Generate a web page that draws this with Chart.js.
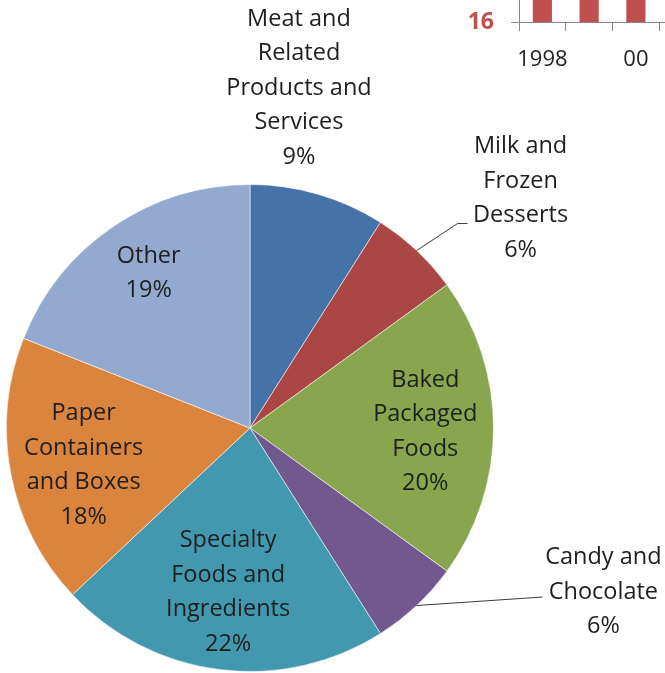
<!DOCTYPE html>
<html>
<head>
<meta charset="utf-8">
<title>Food processing segments</title>
<script src="https://cdn.jsdelivr.net/npm/chart.js"></script>
<style>
  html, body { margin: 0; padding: 0; width: 665px; height: 673px; overflow: hidden; background: #fff; }
  #pieChart { position: absolute; left: 0; top: 0; }
  #yearBars { position: absolute; left: 440px; top: -121px; }
</style>
</head>
<body>
<canvas id="pieChart" width="665" height="700"></canvas>
<canvas id="yearBars" width="266" height="200"></canvas>
<script>
// segment names (one entry per text line) and their shares in percent
const categories = [
  ['Meat and', 'Related', 'Products and', 'Services'],
  ['Milk and', 'Frozen', 'Desserts'],
  ['Baked', 'Packaged', 'Foods'],
  ['Candy and', 'Chocolate'],
  ['Specialty', 'Foods and', 'Ingredients'],
  ['Paper', 'Containers', 'and Boxes'],
  ['Other']
];
const shares = [9, 6, 20, 6, 22, 18, 19];
const sliceColors = ['#4572A7', '#AA4643', '#89A54E', '#71588F', '#4198AF', '#DB843D', '#93A9CF'];

// neighbouring column chart, only its bottom edge shows
const barYears = ['1998', '99', '00', '01'];
const barValues = [22, 23, 24, 24.5];
const barTicks = [16, 18, 20, 22, 24];

const FONT = '"Open Sans", sans-serif';

// where each label sits: f = distance in radii, da = turn from the slice middle (deg)
const labelPlacement = [
  { f: 1.41, da: -8 },
  { f: 1.457, da: 6.5, leader: { ex: -63, ey: 25, tx: -53, ty: 25 } },
  { f: 0.72, da: 1.3 },
  { f: 1.6, da: -21.9, leader: { ex: -61, ey: 5, tx: -61, ty: 5 } },
  { f: 0.68, da: 0.4 },
  { f: 0.70, da: -1.8 },
  { f: 0.76, da: 1 }
];

const sliceLabels = {
  id: 'sliceLabels',
  afterDatasetsDraw(chart) {
    const ctx = chart.ctx;
    const arcs = chart.getDatasetMeta(0).data;
    const lh = 34.5;
    ctx.save();
    ctx.font = '23.5px ' + FONT;
    ctx.fillStyle = '#1e1e1e';
    ctx.textAlign = 'center';
    ctx.textBaseline = 'middle';
    arcs.forEach((arc, i) => {
      const { x, y, startAngle, endAngle, outerRadius } =
        arc.getProps(['x', 'y', 'startAngle', 'endAngle', 'outerRadius'], true);
      const p = labelPlacement[i];
      const mid = (startAngle + endAngle) / 2;
      const a = mid + p.da * Math.PI / 180;
      const cx = x + Math.cos(a) * outerRadius * p.f;
      const cy = y + Math.sin(a) * outerRadius * p.f;
      const lines = [...categories[i], shares[i] + '%'];
      const top = cy - (lines.length - 1) * lh / 2;
      lines.forEach((t, k) => ctx.fillText(t, cx, top + k * lh));

      if (p.leader) {
        ctx.beginPath();
        ctx.strokeStyle = '#3a3a3a';
        ctx.lineWidth = 1;
        ctx.moveTo(x + Math.cos(mid) * outerRadius, y + Math.sin(mid) * outerRadius);
        ctx.lineTo(cx + p.leader.ex, cy + p.leader.ey);
        ctx.lineTo(cx + p.leader.tx, cy + p.leader.ty);
        ctx.stroke();
      }
    });
    ctx.restore();
  }
};

function drawCharts() {
  new Chart(document.getElementById('pieChart'), {
    type: 'pie',
    data: {
      labels: categories,
      datasets: [{
        data: shares,
        backgroundColor: sliceColors,
        borderColor: 'rgba(255,255,255,0.55)',
        borderWidth: 1
      }]
    },
    options: {
      responsive: false,
      animation: false,
      layout: { padding: { left: 6, right: 171, top: 184, bottom: 28 } },
      plugins: {
        legend: { display: false },
        tooltip: { enabled: false }
      }
    },
    plugins: [sliceLabels]
  });

  new Chart(document.getElementById('yearBars'), {
    type: 'bar',
    data: {
      labels: barYears,
      datasets: [{
        data: barValues,
        backgroundColor: '#C0504D',
        barPercentage: 0.41,
        categoryPercentage: 1
      }]
    },
    options: {
      responsive: false,
      animation: false,
      layout: { padding: 0 },
      plugins: {
        legend: { display: false },
        tooltip: { enabled: false }
      },
      scales: {
        x: {
          grid: { drawOnChartArea: false, tickLength: 9, color: '#868686' },
          border: { color: '#868686' },
          ticks: {
            autoSkip: false,
            maxRotation: 0,
            padding: 16,
            color: '#222',
            font: { family: FONT, size: 22 },
            callback: (v, i) => (i % 2 === 0 ? barYears[i] : '')
          },
          afterFit: s => { s.height = 57; }
        },
        y: {
          min: barTicks[0],
          max: barTicks[barTicks.length - 1],
          grid: { drawOnChartArea: false, tickLength: 8, color: '#868686' },
          border: { color: '#868686' },
          ticks: {
            stepSize: barTicks[1] - barTicks[0],
            padding: 17,
            color: '#C0504D',
            font: { family: FONT, size: 23, weight: 'bold' }
          },
          afterFit: s => { s.width = 79; }
        }
      }
    }
  });
}

document.fonts.load('22px "Open Sans"').then(drawCharts, drawCharts);
</script>
</body>
</html>
